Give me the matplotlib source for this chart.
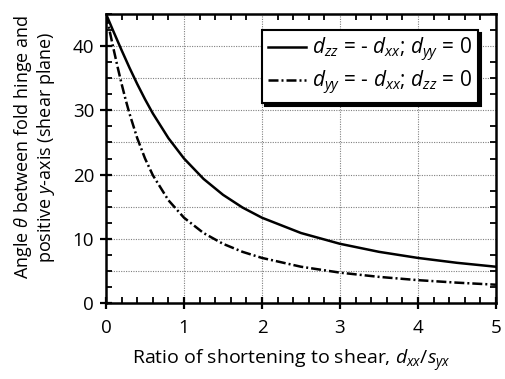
import matplotlib
matplotlib.use("Agg")
from matplotlib import pyplot
from matplotlib.ticker import MultipleLocator

pyplot.rcParams['font.family'] = ['Open Sans', 'DejaVu Sans']
pyplot.rcParams['mathtext.fontset'] = 'custom'
pyplot.rcParams['mathtext.rm'] = 'Open Sans'
pyplot.rcParams['mathtext.it'] = 'Open Sans:italic'

# dzz = -dxx ; dyy = 0  (solid)
ratio_a = [0, 0.05, 0.1, 0.2, 0.3, 0.4, 0.5, 0.6, 0.8, 1.0, 1.25, 1.5, 1.75, 2.0, 2.5, 3.0, 3.5, 4.0, 4.5, 5.0]
theta_a = [45.0, 43.57, 42.14, 39.35, 36.65, 34.10, 31.72, 29.52, 25.67, 22.5, 19.33, 16.85, 14.87, 13.28,
           10.90, 9.22, 7.97, 7.02, 6.26, 5.65]

# dyy = -dxx ; dzz = 0  (dash-dot)
ratio_b = [0, 0.025, 0.05, 0.1, 0.15, 0.2, 0.25, 0.3, 0.4, 0.5, 0.6, 0.8, 1.0, 1.25, 1.5, 1.75, 2.0, 2.5, 3.0,
           3.5, 4.0, 4.5, 5.0]
theta_b = [45.0, 43.57, 42.14, 39.35, 36.65, 34.10, 31.72, 29.52, 25.67, 22.5, 19.90, 16.00, 13.28, 10.90, 9.22,
           7.97, 7.02, 5.65, 4.73, 4.07, 3.56, 3.17, 2.85]

fig = pyplot.figure(figsize=(5.05, 3.79), dpi=100)
ax = fig.add_axes([0.21, 0.2005, 0.772, 0.7625])

for gx in [1, 2, 3, 4]:
    ax.axvline(gx, color='#808080', linewidth=0.8, linestyle=(0, (1, 1.2)), zorder=1)
for gy in range(5, 45, 5):
    ax.axhline(gy, color='#808080', linewidth=0.8, linestyle=(0, (1, 1.2)), zorder=1)

ax.plot(ratio_a, theta_a, color='black', linewidth=1.8, zorder=3,
        label=r'$d_{zz}$ = - $d_{xx}$; $d_{yy}$ = 0')
ax.plot(ratio_b, theta_b, color='black', linewidth=1.8, linestyle=(0, (4, 1.2, 0.8, 1.2)), zorder=3,
        label=r'$d_{yy}$ = - $d_{xx}$; $d_{zz}$ = 0')

ax.set_xlim(0, 5)
ax.set_ylim(0, 45)
ax.xaxis.set_major_locator(MultipleLocator(1))
ax.xaxis.set_minor_locator(MultipleLocator(0.2))
ax.yaxis.set_major_locator(MultipleLocator(10))
ax.yaxis.set_minor_locator(MultipleLocator(2.5))

ax.tick_params(which='major', direction='inout', length=9, width=1.6, labelsize=13.5, pad=4,
               top=False, right=False)
ax.tick_params(which='minor', direction='in', length=4, width=1.3, top=True, right=True)
ax.tick_params(axis='x', which='major', pad=7)

for s in ax.spines.values():
    s.set_linewidth(1.8)

ax.set_xlabel(r'Ratio of shortening to shear, $d_{xx}/s_{yx}$', fontsize=14)
ax.xaxis.set_label_coords(0.475, -0.155)
ax.set_ylabel('Angle $\\theta$ between fold hinge and\npositive $y$-axis (shear plane)',
              fontsize=13, linespacing=1.05)
ax.yaxis.set_label_coords(-0.127, 0.54)

leg = ax.legend(loc='upper right', bbox_to_anchor=(0.954, 0.945), borderaxespad=0, fontsize=15,
                handlelength=1.8, handletextpad=0.3, labelspacing=0.22, borderpad=0.3,
                fancybox=False, framealpha=1, edgecolor='black',
                shadow={'color': 'black', 'alpha': 1, 'ox': 2.2, 'oy': -2.2})
leg.get_frame().set_linewidth(1.5)

pyplot.savefig('out.png', dpi=100)
